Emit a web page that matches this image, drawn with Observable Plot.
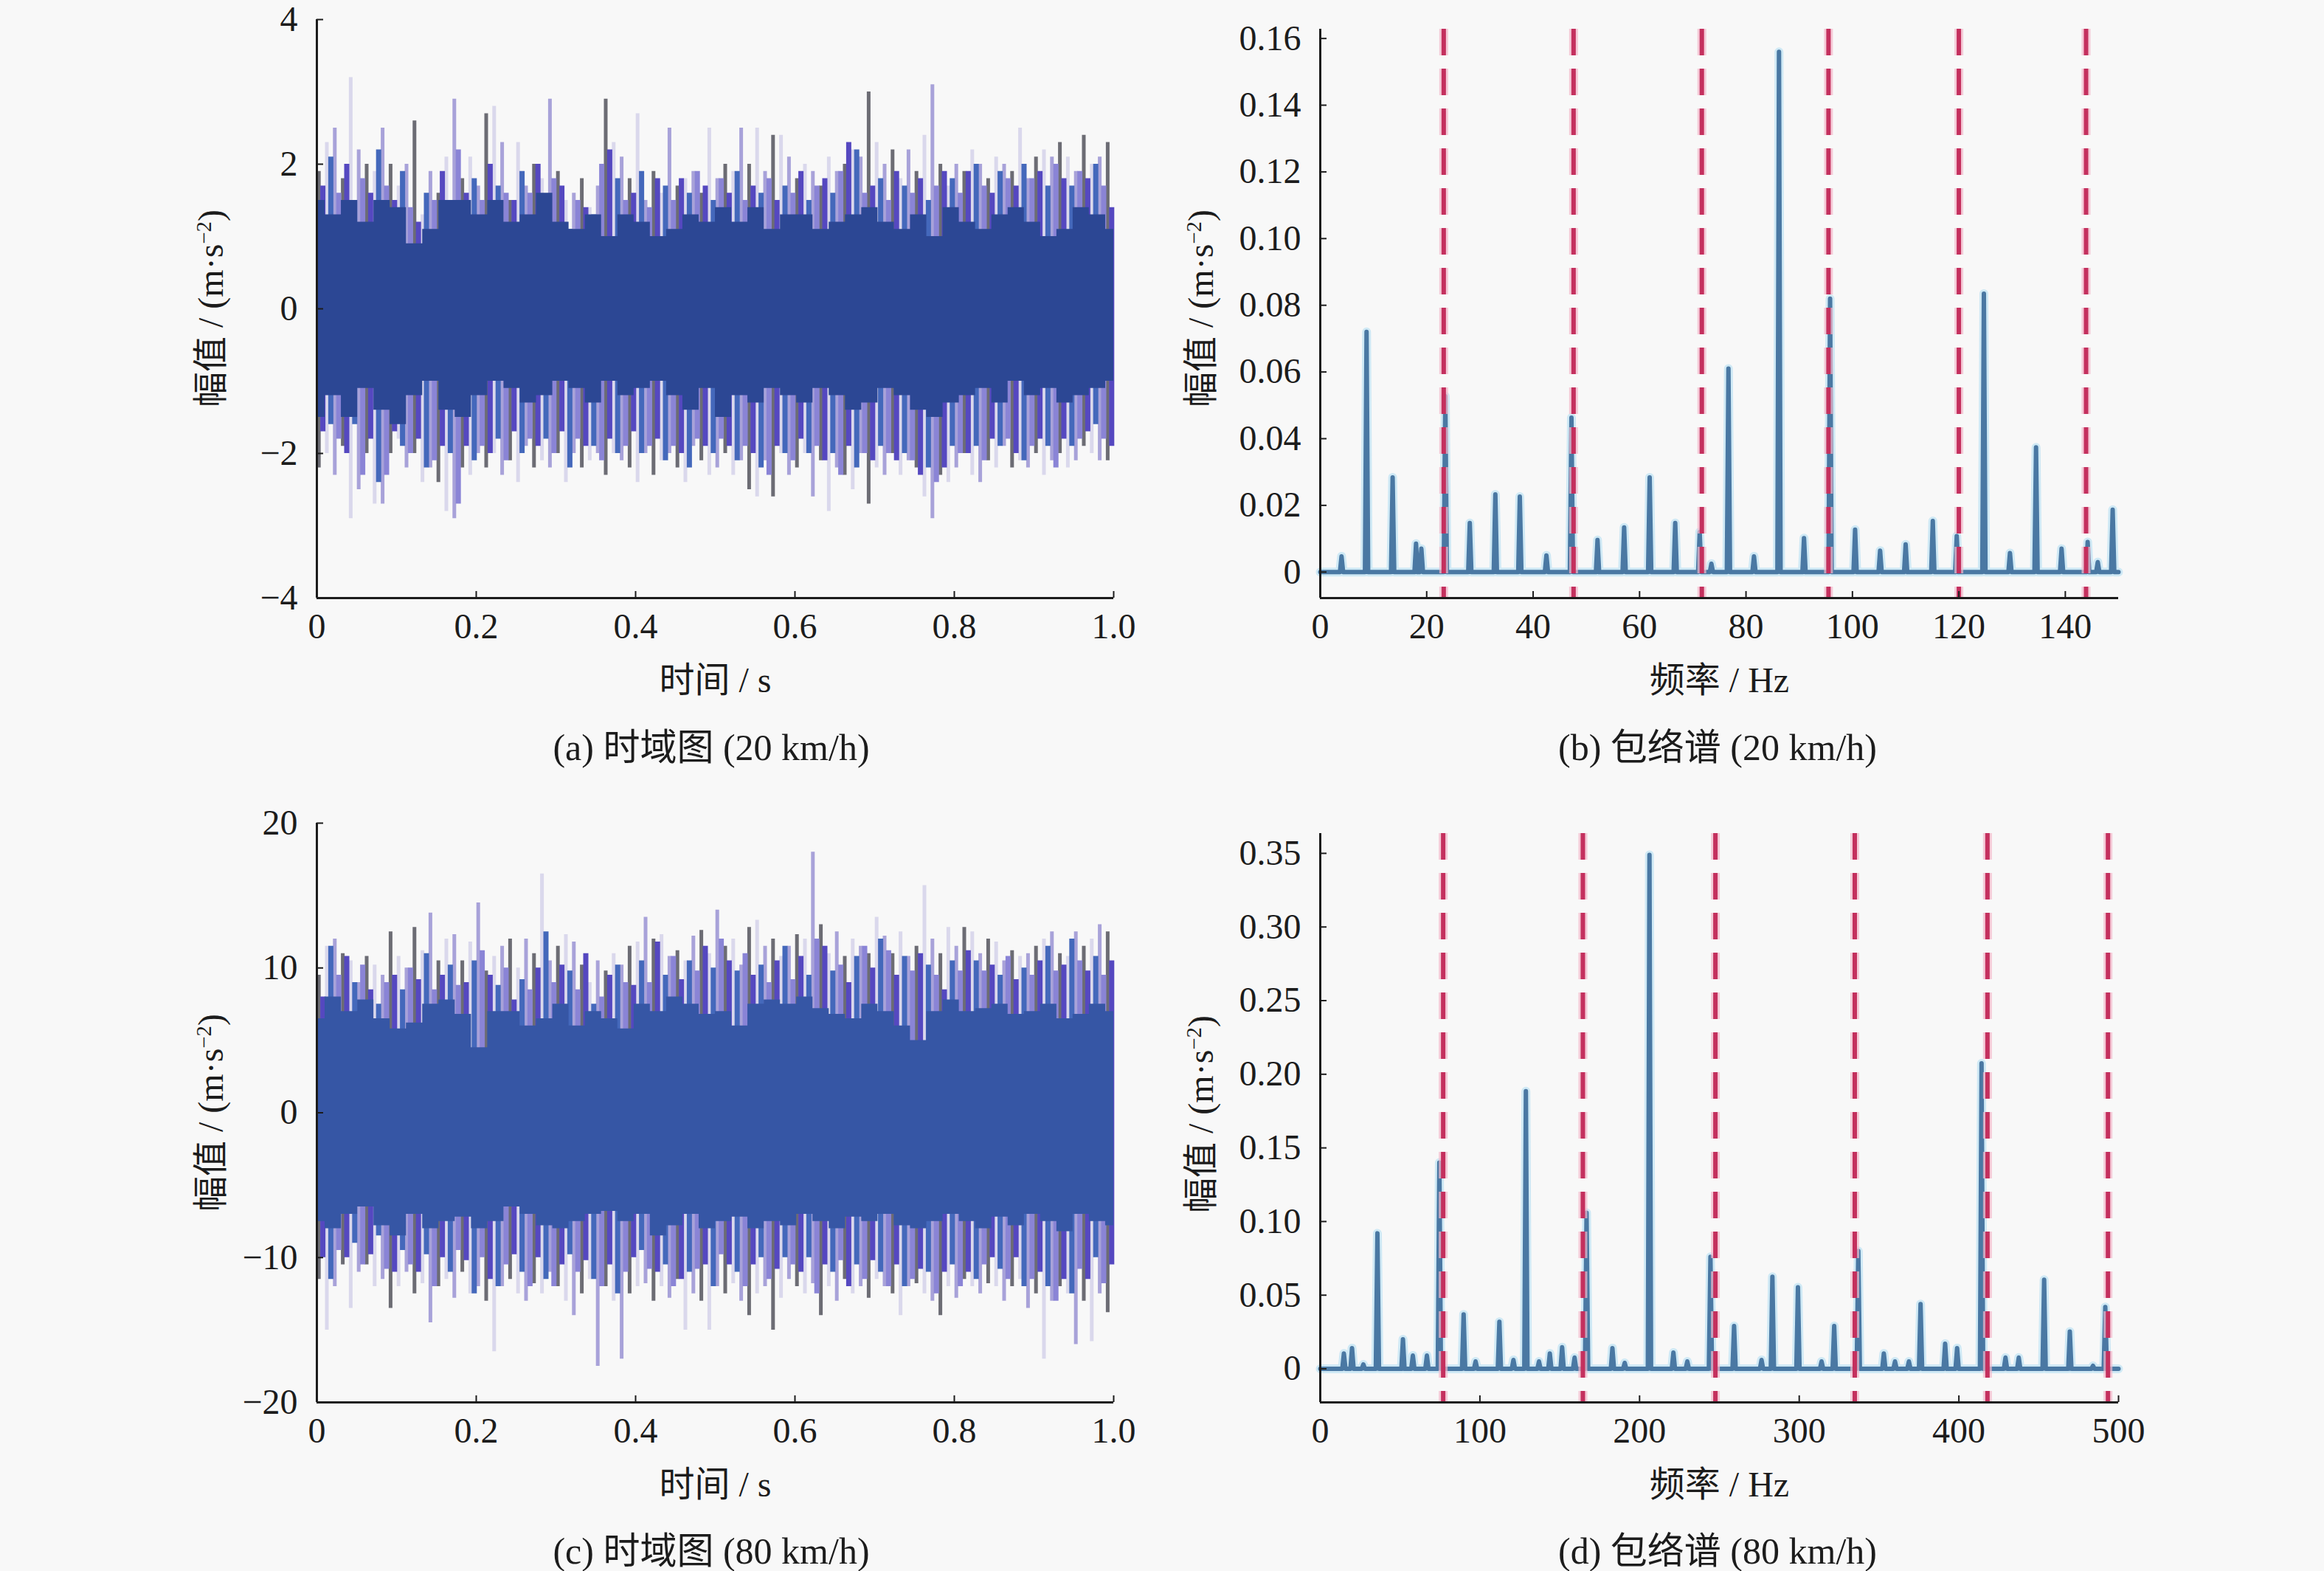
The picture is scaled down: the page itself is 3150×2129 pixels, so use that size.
<!DOCTYPE html>
<html><head><meta charset="utf-8">
<script src="https://cdn.jsdelivr.net/npm/d3@7"></script>
<script src="https://cdn.jsdelivr.net/npm/@observablehq/plot@0.6"></script>
<style>
html,body{margin:0;padding:0;background:#f8f8f8;}
#page{position:relative;width:3150px;height:2129px;background:#f8f8f8;overflow:hidden;font-family:"Liberation Serif","Noto Sans CJK SC",serif;color:#1a1a1a;}
.panel{position:absolute;}
.panel svg{overflow:visible;}
.cap{position:absolute;transform:translate(-50%,-50%);font-size:50px;white-space:nowrap;font-family:"Liberation Serif","Noto Sans CJK SC",serif;color:#1c1c1c;}
.ytitle{position:absolute;transform:translate(-50%,-50%) rotate(-90deg);font-size:48px;white-space:nowrap;font-family:"Liberation Serif","Noto Sans CJK SC",serif;color:#1c1c1c;}
.ytitle sup{font-size:0.6em;vertical-align:0.55em;line-height:0;}
</style></head><body><div id="page"></div>
<script>
// ---------- (a) time signal, 20 km/h ----------
const outerHiA = [1.9,2.3,2.5,1.8,3.2,2.2,2.0,1.9,2.5,2.0, 1.7,2.0,2.6,1.3,1.9,1.6,2.1,2.9,1.8,2.1,
  1.7,2.7,2.8,2.3,1.5,2.3,1.7,2.0,1.8,2.9, 1.9,1.5,1.6,1.8,1.4,1.7,2.9,2.3,2.1,1.8,
  2.7,1.5,1.9,1.6,2.5,1.7,1.8,1.9,1.6,2.5, 1.8,2.0,1.9,2.5,2.0,2.5,1.9,2.4,2.4,2.1,
  1.8,2.0,1.9,1.7,2.1,1.9,2.0,2.2,2.1,3.0, 2.3,2.0,2.2,1.8,2.2,1.9,2.4,3.1,2.0,1.7,
  2.0,1.9,2.2,2.0,1.8,2.1,2.0,1.9,2.5,1.8, 2.1,2.2,2.1,2.3,2.1,1.9,2.4,2.0,2.1,2.3];
const outerLoA = [-2.2,-2.0,-2.3,-1.9,-2.9,-2.5,-2.0,-2.7,-2.7,-2.0, -1.8,-2.2,-2.0,-2.4,-2.2,-2.4,-2.8,-2.9,-2.2,-2.3,
  -2.0,-2.2,-2.0,-2.3,-2.1,-2.4,-1.9,-2.2,-2.1,-2.2, -2.0,-2.4,-2.0,-2.2,-2.1,-2.0,-2.3,-2.0,-2.1,-2.2,
  -2.4,-2.0,-2.3,-2.1,-2.0,-2.2,-2.4,-1.9,-2.1,-2.3, -2.2,-2.0,-2.3,-2.1,-2.5,-2.6,-2.1,-2.6,-2.0,-2.3,
  -2.2,-2.0,-2.6,-2.1,-2.8,-2.2,-2.3,-2.5,-2.0,-2.7, -2.2,-2.3,-2.0,-2.3,-2.1,-2.2,-2.6,-2.9,-2.3,-2.4,
  -2.2,-2.0,-2.3,-2.4,-2.1,-2.2,-1.9,-2.2,-2.1,-2.2, -2.0,-2.3,-2.1,-2.0,-2.2,-2.1,-1.9,-2.0,-2.1,-2.1];
const midHiA = [1.7,2.1,1.6,2.0,1.5,1.8,1.6,2.2,1.7,1.5, 1.9,1.4,1.2,1.6,1.5,1.9,1.4,2.2,1.6,1.8,
  1.5,2.0,1.7,1.6,1.5,1.9,1.6,2.0,1.4,1.8, 1.7,1.1,1.5,1.4,1.3,2.0,2.2,1.8,1.5,1.6,
  1.9,1.4,1.8,1.7,1.5,1.8,1.6,1.9,1.7,1.5, 1.8,1.6,1.9,1.5,1.7,1.6,1.8,1.5,1.7,1.6,
  1.9,1.5,1.7,1.8,1.6,1.9,2.3,2.2,1.6,1.7, 1.8,1.5,1.9,1.7,1.6,1.8,1.5,1.7,1.9,1.8,
  1.6,1.9,2.0,1.7,1.6,1.9,1.8,1.7,2.0,1.8, 1.9,1.7,2.0,1.8,1.7,1.9,1.8,2.0,1.7,1.4];
const midLoA = [-1.7,-1.6,-1.8,-2.0,-1.6,-2.3,-1.8,-2.4,-2.3,-1.7, -1.9,-2.0,-1.8,-2.2,-2.1,-1.9,-2.0,-2.7,-1.9,-2.1,
  -1.9,-2.0,-1.8,-2.1,-1.7,-2.0,-1.8,-1.9,-1.8,-2.0, -1.7,-2.2,-1.8,-1.9,-1.9,-2.1,-1.8,-2.0,-1.9,-1.7,
  -2.0,-1.9,-1.8,-2.1,-1.9,-2.0,-2.2,-1.8,-1.9,-2.0, -1.8,-1.9,-2.1,-1.9,-2.0,-2.2,-2.3,-1.9,-2.0,-2.1,
  -1.8,-2.0,-1.9,-2.1,-2.0,-2.3,-1.9,-2.2,-2.0,-2.1, -1.9,-2.0,-2.1,-2.0,-2.1,-2.3,-2.2,-2.4,-2.2,-1.9,
  -2.0,-2.0,-1.9,-2.1,-1.8,-1.9,-1.8,-2.0,-2.1,-1.9, -1.8,-1.9,-2.2,-1.8,-1.9,-1.8,-1.7,-1.6,-1.8,-1.9];
const coreHiA = [1.5,1.3,1.5,1.2,1.5,1.4,0.9,1.1,1.5,1.5, 1.3,1.5,1.2,1.3,1.6,1.2,1.1,1.3,1.0,1.3,
  1.2,1.0,1.1,1.3,1.2,1.4,1.2,1.4,1.1,1.3, 1.3,1.1,1.2,1.3,1.4,1.2,1.1,1.3,1.0,1.4,
  1.2,1.1,1.3,1.4,1.2,1.0,1.1,1.4,1.3,1.1];
const coreLoA = [-1.5,-1.2,-1.5,-1.1,-1.4,-1.6,-1.2,-1.0,-1.4,-1.5, -1.2,-1.0,-1.1,-1.3,-1.2,-1.0,-1.1,-1.3,-1.0,-1.2,
  -1.1,-1.0,-1.2,-1.4,-1.1,-1.5,-1.2,-1.3,-1.1,-1.2, -1.3,-1.1,-1.2,-1.4,-1.3,-1.1,-1.2,-1.4,-1.5,-1.3,
  -1.2,-1.1,-1.3,-1.0,-1.2,-1.1,-1.3,-1.2,-1.1,-1.0];

// ---------- (c) time signal, 80 km/h ----------
const outerHiC = [9.5,11.5,12.0,11.0,10.5,9.0,10.8,10.2,9.5,12.5, 10.8,10.0,12.8,11.2,13.8,10.5,12.0,12.3,10.5,11.8,
  14.5,9.8,10.8,11.5,12.0,10.0,12.0,11.0,16.5,10.5, 11.5,12.3,11.8,10.2,9.0,10.5,9.8,11.0,10.2,11.5,
  11.8,13.5,12.0,12.3,10.8,11.2,10.5,12.2,12.6,11.0, 14.0,11.5,12.0,10.2,12.8,13.3,11.5,12.0,10.8,11.5,
  12.3,12.0,18.0,13.0,11.0,12.5,10.8,12.0,11.5,11.0, 13.5,12.2,11.0,12.5,10.8,11.5,15.7,12.0,11.0,12.8,
  11.5,12.8,12.5,11.0,12.0,11.8,10.5,11.2,10.8,11.0, 11.5,12.0,12.5,11.0,10.8,12.5,11.5,12.0,13.0,12.5];
const outerLoC = [-11.5,-15.0,-12.0,-10.5,-13.5,-11.0,-10.5,-12.0,-11.5,-13.5, -12.0,-11.0,-12.5,-11.8,-14.5,-12.0,-11.5,-12.8,-11.0,-12.5,
  -12.0,-13.0,-16.5,-12.0,-11.5,-12.5,-13.0,-11.8,-12.5,-11.0, -12.0,-13.0,-14.0,-12.5,-11.5,-17.5,-12.0,-13.0,-17.0,-12.5,
  -12.0,-11.8,-13.0,-12.0,-12.8,-11.5,-15.0,-12.5,-13.0,-15.0, -12.0,-12.5,-11.8,-13.0,-14.0,-12.5,-12.0,-15.0,-12.8,-11.5,
  -12.0,-12.5,-11.8,-14.0,-12.0,-13.0,-11.5,-12.5,-12.0,-12.8, -11.5,-12.0,-12.5,-14.0,-12.0,-11.8,-12.5,-13.0,-14.0,-12.0,
  -12.8,-11.5,-12.0,-12.5,-11.8,-12.0,-13.0,-12.0,-11.5,-13.5, -12.5,-17.0,-13.0,-12.0,-12.5,-16.0,-13.0,-15.8,-12.5,-13.8];
const midHiC = [8.0,11.5,9.5,10.8,9.0,10.2,8.5,7.5,9.0,9.5, 8.5,10.0,9.2,11.0,8.5,9.5,10.2,8.8,9.0,10.5,
  11.2,9.5,8.8,10.0,7.8,9.2,8.5,10.0,12.5,9.0, 10.2,9.8,8.5,11.0,7.5,8.0,9.5,10.2,9.0,8.8,
  10.5,9.0,11.8,9.5,10.8,9.2,10.5,9.8,11.5,10.0, 12.0,10.5,9.8,11.0,9.5,10.2,9.0,10.5,11.5,9.2,
  10.8,9.5,12.0,11.5,9.8,10.2,9.0,10.8,11.5,10.0, 12.0,11.2,9.5,10.8,9.8,11.0,10.2,9.5,8.5,10.5,
  9.8,11.2,10.5,9.8,10.2,9.5,10.8,9.2,10.0,9.5, 10.5,11.5,9.8,10.2,12.0,10.5,9.8,10.8,9.5,10.5];
const midLoC = [-10.0,-11.5,-9.5,-10.0,-9.0,-10.5,-9.8,-8.5,-10.8,-11.0, -9.5,-10.5,-11.0,-9.8,-12.0,-10.0,-11.0,-9.5,-10.2,-12.5,
  -10.0,-11.5,-12.0,-10.5,-9.8,-11.0,-12.0,-10.0,-11.5,-12.0, -10.5,-9.8,-11.0,-10.2,-11.5,-12.0,-10.5,-12.5,-11.0,-10.0,
  -9.5,-10.8,-11.0,-10.5,-12.0,-11.5,-11.0,-10.8,-10.5,-12.0, -9.8,-10.5,-11.0,-12.0,-10.5,-10.0,-11.5,-10.8,-10.0,-10.5,
  -11.0,-10.0,-12.5,-10.5,-11.0,-10.2,-12.0,-10.5,-11.5,-10.2, -11.0,-12.0,-10.5,-12.0,-11.5,-10.8,-11.0,-12.5,-11.0,-10.5,
  -12.0,-11.0,-11.5,-10.5,-10.0,-10.8,-11.5,-10.0,-12.0,-11.5, -11.0,-12.0,-13.0,-11.5,-12.5,-10.8,-11.5,-10.0,-11.8,-10.5];
const coreHiC = [6.5,8.0,7.0,7.8,6.5,5.8,6.2,7.5,7.8,6.8, 4.5,7.0,7.0,6.0,6.5,7.5,6.0,7.0,6.5,5.8,
  7.5,7.0,8.0,7.5,6.8,7.0,6.0,7.5,7.8,7.5, 8.0,7.2,6.8,6.5,7.5,7.0,6.0,5.0,7.0,7.8,
  7.0,7.2,7.5,6.8,7.0,7.5,6.5,6.8,7.5,7.0];
const coreLoC = [-7.5,-8.0,-7.0,-6.5,-7.8,-8.5,-7.0,-8.0,-7.5,-7.2, -8.0,-7.5,-6.5,-7.0,-7.8,-8.0,-7.5,-7.0,-6.8,-7.5,
  -7.0,-8.5,-7.8,-7.0,-8.0,-7.5,-7.2,-8.0,-7.5,-7.8, -7.0,-7.5,-8.0,-7.2,-7.5,-7.0,-7.8,-8.0,-7.5,-7.0,
  -7.5,-8.0,-7.2,-7.8,-7.0,-7.5,-8.2,-7.0,-7.5,-7.8];

// ---------- (b) envelope spectrum, 20 km/h ----------
const peakFreqB = [4.0,8.7,13.6,18.0,19.0,23.5,28.1,32.9,37.5,42.5,47.2,52.1,57.1,61.9,66.7,71.3,73.5,76.7,81.5,86.2,
  90.9,95.8,100.5,105.2,110.0,115.1,119.6,124.7,129.6,134.5,139.3,144.2,146.1,148.9];
const peakAmpB = [0.0047,0.072,0.0284,0.0085,0.007,0.0527,0.0147,0.0233,0.0226,0.005,0.0463,0.0096,0.0134,0.0284,0.0147,0.012,0.0025,0.061,0.0047,0.156,
  0.0102,0.082,0.0127,0.0064,0.0083,0.0153,0.0108,0.0835,0.0057,0.0374,0.007,0.009,0.003,0.0187];
const faultFreqB = [23.2,47.6,71.7,95.5,120.0,143.9];
const xTicksB = [0,20,40,60,80,100,120,140];
const yTicksB = [0,0.02,0.04,0.06,0.08,0.10,0.12,0.14,0.16];

// ---------- (d) envelope spectrum, 80 km/h ----------
const peakFreqD = [14.8,19.9,27,35.8,51.8,58,66.8,74.6,89.8,97.3,112.2,121,128.8,137,143.8,151.5,159.3,166.8,183,190.7,
  206.2,221.2,229.9,244.4,259.2,276.4,283.2,299.2,314.0,321.9,337.0,353.0,360.0,368.7,376.0,391.4,398.9,414.2,429.2,437.5,
  453.4,469.5,484,491.7];
const peakAmpD = [0.0104,0.014,0.003,0.092,0.02,0.009,0.009,0.14,0.037,0.005,0.032,0.006,0.1885,0.005,0.0104,0.0146,0.0076,0.106,0.014,0.004,
  0.349,0.011,0.005,0.076,0.029,0.006,0.0625,0.0554,0.005,0.029,0.08,0.0104,0.005,0.005,0.044,0.017,0.014,0.2074,0.0076,0.0076,
  0.0605,0.0253,0.002,0.042];
const faultFreqD = [77,164.5,247.5,334.8,417.9,493.4];
const xTicksD = [0,100,200,300,400,500];
const yTicksD = [0,0.05,0.10,0.15,0.20,0.25,0.30,0.35];

const xTicksT = [0,0.2,0.4,0.6,0.8,1.0];
const yTicksA = [-4,-2,0,2,4];
const yTicksC = [-20,-10,0,10,20];

const yTitleHTML = "幅值 / (m·s<sup>−2</sup>)";
const captions = ["(a) 时域图 (20 km/h)","(b) 包络谱 (20 km/h)","(c) 时域图 (80 km/h)","(d) 包络谱 (80 km/h)"];

// ---------- drawing ----------
const FONT = "'Liberation Serif','Noto Sans CJK SC',serif";
const INK = "#1c1c1c";
const page = document.getElementById("page");
const mL = 200, mR = 40, mT = 20, mB = 150;
const minus = d => d < 0 ? "\u2212" + Math.abs(d) : String(d);
const outerColors = ["#6c6c74", "#dad8ec", "#a8a2d9"];
const midColors = ["#5548c0", "#4468bb", "#8a84d6"];

function place(svg, left, top, yTitleX) {
  const div = document.createElement("div");
  div.className = "panel";
  div.style.left = (left - mL) + "px";
  div.style.top = (top - mT) + "px";
  div.appendChild(svg);
  page.appendChild(div);
}
function yTitle(x, y) {
  const d = document.createElement("div");
  d.className = "ytitle";
  d.style.left = x + "px";
  d.style.top = y + "px";
  d.innerHTML = yTitleHTML;
  page.appendChild(d);
}

function axesMarks(fw, fh, xDom, yDom, xTicks, yTicks, xFmt, yFmt, xTitle) {
  return [
    Plot.ruleX([xDom[0]], {stroke: INK, strokeWidth: 3}),
    Plot.ruleY([yDom[0]], {stroke: INK, strokeWidth: 3}),
    Plot.ruleX(xTicks, {insetTop: fh - 9, stroke: INK, strokeWidth: 2}),
    Plot.ruleY(yTicks, {insetRight: fw - 9, stroke: INK, strokeWidth: 2}),
    Plot.axisX(xTicks, {tickSize: 0, tickPadding: 20, tickFormat: xFmt, fontSize: 48, label: null, fill: INK}),
    Plot.axisY(yTicks, {tickSize: 0, tickPadding: 26, tickFormat: yFmt, fontSize: 48, label: null, fill: INK}),
    Plot.text([xTitle], {text: d => d, frameAnchor: "bottom", dy: 112, fontSize: 48, lineAnchor: "middle", fill: INK})
  ];
}

function timePanel(o) {
  const fw = o.right - o.left, fh = o.bottom - o.top;
  const outer = o.outerHi.map((v, i) => ({t: (i + 0.25) / o.outerHi.length, hi: v, lo: o.outerLo[i], c: outerColors[i % 3]}));
  const mid = o.midHi.map((v, i) => ({t: (i + 0.75) / o.midHi.length, hi: v, lo: o.midLo[i], c: midColors[i % 3]}));
  const core = o.coreHi.map((v, i) => ({t: i / (o.coreHi.length - 1), hi: v, lo: o.coreLo[i]}));
  const svg = Plot.plot({
    width: fw + mL + mR, height: fh + mT + mB,
    marginLeft: mL, marginRight: mR, marginTop: mT, marginBottom: mB,
    x: {domain: [0, 1]}, y: {domain: o.yDomain},
    style: {background: "transparent", fontFamily: FONT, color: INK, overflow: "visible"},
    marks: [
      Plot.ruleX(outer, {x: "t", y1: "lo", y2: "hi", stroke: "c", strokeWidth: 5}),
      Plot.ruleX(mid, {x: "t", y1: "lo", y2: "hi", stroke: "c", strokeWidth: 7}),
      Plot.areaY(core, {x: "t", y1: "lo", y2: "hi", fill: o.coreColor, curve: "step"}),
      ...axesMarks(fw, fh, [0, 1], o.yDomain, xTicksT, o.yTicks,
        d => d === 0 ? "0" : d.toFixed(1), minus, "时间 / s")
    ]
  });
  place(svg, o.left, o.top);
  yTitle(o.left - 148, o.yTitleY);
}

function specPanel(o) {
  const fw = o.right - o.left, fh = o.bottom - o.top;
  const pts = [{f: 0, a: 0}];
  o.freq.forEach((f, i) => {
    pts.push({f: f - o.hw, a: 0}, {f: f, a: o.amp[i]}, {f: f + o.hw, a: 0});
  });
  pts.push({f: o.xDomain[1], a: 0});
  const svg = Plot.plot({
    width: fw + mL + mR, height: fh + mT + mB,
    marginLeft: mL, marginRight: mR, marginTop: mT, marginBottom: mB,
    x: {domain: o.xDomain}, y: {domain: o.yDomain},
    style: {background: "transparent", fontFamily: FONT, color: INK, overflow: "visible"},
    marks: [
      Plot.line(pts, {x: "f", y: "a", stroke: "#cfe9f5", strokeWidth: 12}),
      Plot.line(pts, {x: "f", y: "a", stroke: "#4a78a3", strokeWidth: 6}),
      Plot.ruleX(o.fault, {stroke: "#f4b8cb", strokeWidth: 12, strokeDasharray: "36,18", strokeOpacity: 0.7}),
      Plot.ruleX(o.fault, {stroke: "#c4305e", strokeWidth: 6, strokeDasharray: "36,18"}),
      ...axesMarks(fw, fh, o.xDomain, o.yDomain, o.xTicks, o.yTicks,
        d => String(d), d => d === 0 ? "0" : d.toFixed(2), "频率 / Hz")
    ]
  });
  place(svg, o.left, o.top);
  yTitle(o.left - 166, o.yTitleY);
}

timePanel({left: 429, right: 1509, top: 26, bottom: 810, yDomain: [-4, 4], yTicks: yTicksA,
  outerHi: outerHiA, outerLo: outerLoA, midHi: midHiA, midLo: midLoA, coreHi: coreHiA, coreLo: coreLoA,
  coreColor: "#2c4794", yTitleY: 418});
timePanel({left: 429, right: 1509, top: 1115, bottom: 1900, yDomain: [-20, 20], yTicks: yTicksC,
  outerHi: outerHiC, outerLo: outerLoC, midHi: midHiC, midLo: midLoC, coreHi: coreHiC, coreLo: coreLoC,
  coreColor: "#3656a5", yTitleY: 1508});
specPanel({left: 1789, right: 2871, top: 39, bottom: 810, xDomain: [0, 150], yDomain: [-0.0078, 0.1628],
  xTicks: xTicksB, yTicks: yTicksB, freq: peakFreqB, amp: peakAmpB, fault: faultFreqB, hw: 0.3, yTitleY: 418});
specPanel({left: 1789, right: 2871, top: 1129, bottom: 1900, xDomain: [0, 500], yDomain: [-0.0228, 0.3635],
  xTicks: xTicksD, yTicks: yTicksD, freq: peakFreqD, amp: peakAmpD, fault: faultFreqD, hw: 1.0, yTitleY: 1510});

const capPos = [[964, 1008], [2328, 1008], [964, 2097], [2328, 2097]];
captions.forEach((c, i) => {
  const d = document.createElement("div");
  d.className = "cap";
  d.style.left = capPos[i][0] + "px";
  d.style.top = capPos[i][1] + "px";
  d.textContent = c;
  page.appendChild(d);
});
</script></body></html>
